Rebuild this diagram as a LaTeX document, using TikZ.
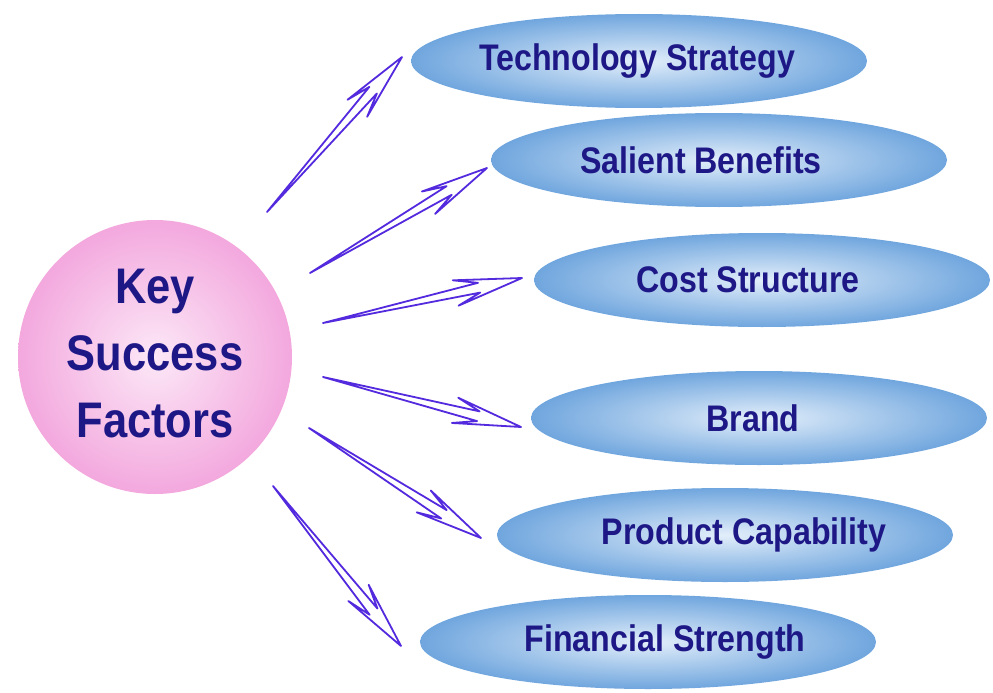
\documentclass[tikz,border=0pt]{standalone}
\usepackage{fontspec}
\setmainfont{Liberation Sans}
\newfontfamily\kfnarrow[FakeStretch=0.87]{Liberation Sans}
\usepackage{tikz}
\usetikzlibrary{shapes.geometric,calc}

\definecolor{kfnavy}{RGB}{30,24,135}
\definecolor{kfarrowcol}{RGB}{84,42,222}
\definecolor{kfpinkin}{RGB}{252,232,247}
\definecolor{kfpinkout}{RGB}{243,168,222}
\definecolor{kfbluein}{RGB}{226,238,250}
\definecolor{kfblueout}{RGB}{112,166,222}

\tikzset{
  hub/.style={circle, minimum size=274pt, inner sep=0pt,
    inner color=kfpinkin, outer color=kfpinkout},
  hubtext/.style={text=kfnavy, align=center, inner sep=0pt,
    font=\kfnarrow\bfseries\fontsize{50}{67}\selectfont},
  factor/.style={ellipse, minimum width=456pt, minimum height=94pt, inner sep=0pt,
    inner color=kfbluein, outer color=kfblueout,
    text=kfnavy, font=\kfnarrow\bfseries\fontsize{37}{40}\selectfont},
  kfline/.style={draw=kfarrowcol, line width=1.8pt, line join=round}
}

% text set off the centre of its ellipse by #1
\newcommand\kfoff[2]{\hspace*{#1}#2\hspace*{-#1}}

% outline arrow: tail point (#1) to tip (#2)
\newcommand\kfarrow[2]{%
  \draw[kfline] (#1)
    -- ($(#2)!44pt!(#1)!5pt!90:(#2)$)
    -- ($(#2)!68pt!(#1)!13pt!90:(#2)$)
    -- (#2)
    -- ($(#2)!68pt!(#1)!13pt!-90:(#2)$)
    -- ($(#2)!44pt!(#1)!5pt!-90:(#2)$)
    -- cycle;}

\begin{document}
\begin{tikzpicture}[x=1pt, y=-1pt]
  \useasboundingbox[fill=white] (0,0) rectangle (993,693);

  % centre circle
  \node[hub] (ksf) at (155,357) {};
  \node[hubtext] (ksftext) at ($(ksf.center)+(0,-3)$) {Key\\Success\\Factors};

  % factors
  \node[factor] (tech)  at (639,61)  {\kfoff{-2pt}{Technology Strategy}};
  \node[factor] (sal)   at (719,160) {\kfoff{-18pt}{Salient Benefits}};
  \node[factor] (cost)  at (762,280) {\kfoff{-14pt}{Cost Structure}};
  \node[factor] (brand) at (759,418) {\kfoff{-6pt}{Brand}};
  \node[factor] (prod)  at (725,535) {\kfoff{19pt}{Product Capability}};
  \node[factor] (fin)   at (648,642) {\kfoff{17pt}{Financial Strength}};

  % arrow ends
  \coordinate (s1) at (267,212); \coordinate (e1) at (402,57);
  \coordinate (s2) at (310,273); \coordinate (e2) at (487,168);
  \coordinate (s3) at (323,323); \coordinate (e3) at (522,278);
  \coordinate (s4) at (323,377); \coordinate (e4) at (521,427);
  \coordinate (s5) at (309,428); \coordinate (e5) at (481,538);
  \coordinate (s6) at (273,486); \coordinate (e6) at (401,646);

  % arrows
  \foreach \a/\b in {s1/e1, s2/e2, s3/e3, s4/e4, s5/e5, s6/e6}
    \kfarrow{\a}{\b};
\end{tikzpicture}
\end{document}
